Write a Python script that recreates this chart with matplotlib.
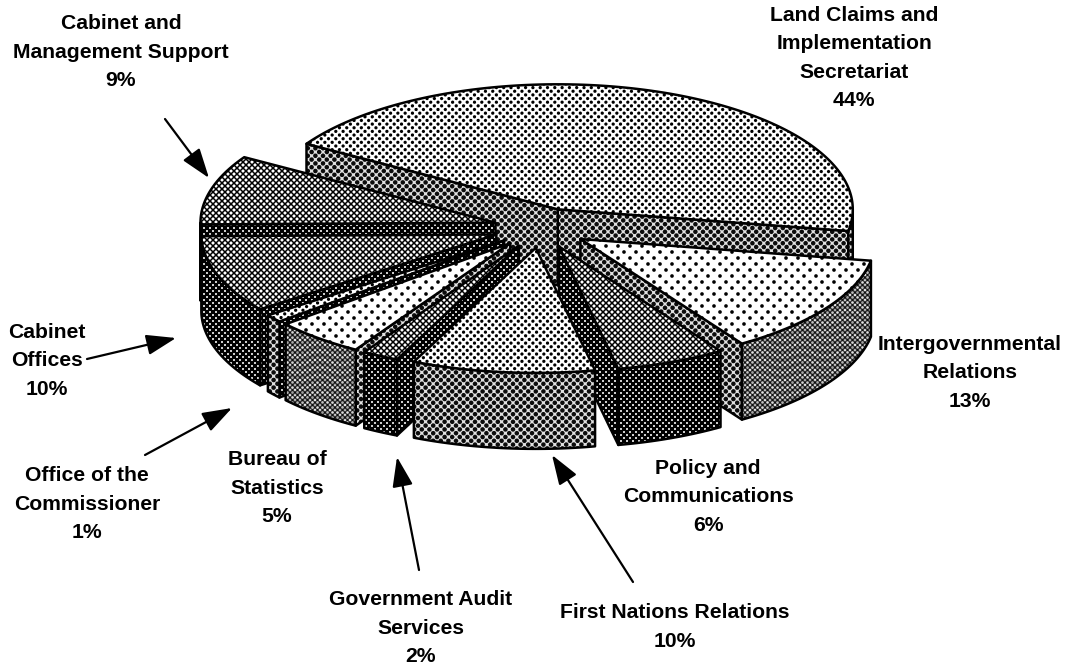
import numpy as np
import matplotlib
matplotlib.use('Agg')
import matplotlib.pyplot as plt
from matplotlib.patches import Polygon

plt.rcParams['font.family'] = ['Liberation Sans', 'DejaVu Sans']

# the slices, counter clockwise from the right hand side
labels = ['Land Claims and\nImplementation\nSecretariat',
          'Cabinet and\nManagement Support',
          'Cabinet\nOffices',
          'Office of the\nCommissioner',
          'Bureau of\nStatistics',
          'Government Audit\nServices',
          'First Nations Relations',
          'Policy and\nCommunications',
          'Intergovernmental\nRelations']
shares = [44, 9, 10, 1, 5, 2, 10, 6, 13]

W, H = 1069, 670
start_angle = -10.0
cx, cy = 541, 228
rx, ry = 295, 125
depth = 76
explode = 0.16

label_xy = [(854, 58), (121, 52), (47, 361), (87, 504), (277, 488),
            (421, 628), (675, 627), (708, 497), (970, 373)]
arrows = [((165, 119), (209, 178)), ((87, 359), (176, 338)),
          ((145, 455), (232, 408)), ((419, 570), (397, 457)),
          ((633, 582), (552, 455))]


def halftone(pitch, dot, ink, paper):
    # 45 degree screen, like the scanned print
    yy, xx = np.mgrid[0:H, 0:W] + 0.5
    u = (xx - yy) / pitch
    v = (xx + yy) / pitch
    dist = pitch * np.hypot(u - np.round(u), v - np.round(v)) / np.sqrt(2)
    cover = np.clip(dot / 2 - dist + 0.5, 0, 1)
    return paper + (ink - paper) * cover


yy, xx = np.mgrid[0:H, 0:W]
streaks = 0.85 + 0.15 * np.sin(yy / 1.3 + np.sin(xx / 7.0) * 2)
textures = {
    'light': halftone(7.3, 3.2, 0, 1),
    'sparse': halftone(12, 3.6, 0, 1),
    'dark': halftone(6, 3.0, 1, 0),
    'darker': halftone(6, 2.1, 0.95, 0),
    'mesh': halftone(7.6, 4.5, 0.05, 0.88),
    'grey': halftone(5, 2.6, 0.9, 0.08) * streaks,
}

# texture of top, outer wall and cut walls for each slice
top_tex = ['light', 'dark', 'dark', 'light', 'sparse', 'dark', 'light', 'dark', 'sparse']
wall_tex = ['mesh', 'darker', 'darker', 'mesh', 'grey', 'darker', 'mesh', 'darker', 'grey']
cut_tex = ['mesh', 'darker', 'darker', 'darker', 'mesh', 'darker', 'mesh', 'darker', 'mesh']

fig = plt.figure(figsize=(W / 100, H / 100), dpi=100)
ax = fig.add_axes([0, 0, 1, 1])


def face(verts, tex, z):
    outline = Polygon(verts, closed=True, fc='none', ec='black', lw=1.8, joinstyle='round', zorder=z + 0.5)
    ax.add_patch(outline)
    im = ax.imshow(textures[tex], cmap='gray', vmin=0, vmax=1, extent=(0, W, H, 0),
                   interpolation='nearest', aspect='auto', zorder=z)
    im.set_clip_path(outline)


def rim(x0, y0, a0, a1):
    t = np.radians(np.linspace(a0, a1, max(int(abs(a1 - a0) * 2), 2)))
    return np.column_stack([x0 + rx * np.cos(t), y0 - ry * np.sin(t)])


sweeps = np.array(shares) / sum(shares) * 360
ends = start_angle + np.cumsum(sweeps)
starts = ends - sweeps
mids = (starts + ends) / 2

# back slices first, the front ones paint over them
order = np.argsort(-np.sin(np.radians(mids)))
z = 1
for i in order:
    a0, a1 = starts[i], ends[i]
    m = np.radians(mids[i])
    x0 = cx + explode * rx * np.cos(m)
    y0 = cy - explode * ry * np.sin(m)
    apex = np.array([x0, y0])
    drop = np.array([0, depth])

    # straight cut walls, only the ones that face us
    for a, seen in ((a0, np.cos(np.radians(a0)) > 0), (a1, np.cos(np.radians(a1)) < 0)):
        if seen:
            corner = rim(x0, y0, a, a)[0]
            face([apex, corner, corner + drop, apex + drop], cut_tex[i], z)
            z += 1

    # round outer wall, front half of the ellipse only
    for lo, hi in ((a0, a1), (a0 + 360, a1 + 360)):
        lo, hi = max(lo, 180), min(hi, 360)
        if hi > lo:
            arc = rim(x0, y0, lo, hi)
            face(np.vstack([arc, arc[::-1] + drop]), wall_tex[i], z)
            z += 1

    face(np.vstack([apex, rim(x0, y0, a0, a1)]), top_tex[i], z)
    z += 1

for label, share, (x, y) in zip(labels, shares, label_xy):
    ax.text(x, y, '%s\n%d%%' % (label, share), ha='center', va='center', multialignment='center',
            fontsize=15.2, fontweight='bold', linespacing=1.62, color='black', zorder=z + 1)

for tail, tip in arrows:
    ax.annotate('', xy=tip, xytext=tail, zorder=z + 1,
                arrowprops=dict(arrowstyle='-|>,head_length=1.3,head_width=0.45', mutation_scale=14,
                                lw=1.6, color='black', shrinkA=0, shrinkB=0))

ax.set_xlim(0, W)
ax.set_ylim(H, 0)
ax.axis('off')
fig.savefig('out.png', dpi=100, facecolor='white')
